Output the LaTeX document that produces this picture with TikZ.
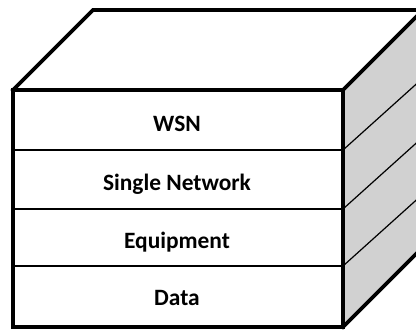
\documentclass[tikz,border=0pt]{standalone}
\usepackage{fontspec}
\setmainfont{Carlito}
\begin{document}
\begin{tikzpicture}[x=1bp,y=-1bp,
  thick edge/.style={line width=3.6bp, line join=miter, line cap=rect},
  layer line/.style={line width=1.4bp},
  side line/.style={line width=1.2bp},
  label/.style={font=\bfseries\fontsize{23.5}{27}\selectfont, anchor=base, inner sep=0pt}]
\useasboundingbox (0,0) rectangle (416,332);
\clip (0,0) rectangle (416,332);
% corners
\coordinate (FTL) at (13,90);
\coordinate (FTR) at (343,90);
\coordinate (FBL) at (13,327);
\coordinate (FBR) at (343,327);
\coordinate (BTL) at (93,10);
\coordinate (BTR) at (423,10);
\coordinate (BBR) at (423,247);
% right face
\fill[black!18] (FTR) -- (BTR) -- (BBR) -- (FBR) -- cycle;
% layer lines on front
\coordinate (L1a) at (13,150); \coordinate (L1b) at (343,150);
\coordinate (L2a) at (13,209); \coordinate (L2b) at (343,209);
\coordinate (L3a) at (13,266); \coordinate (L3b) at (343,266);
\draw[layer line] (L1a) -- (L1b);
\draw[layer line] (L2a) -- (L2b);
\draw[layer line] (L3a) -- (L3b);
% layer lines on right face
\coordinate (R1) at (423,78);
\coordinate (R2) at (423,137);
\coordinate (R3) at (423,194);
\draw[side line] (L1b) -- (R1);
\draw[side line] (L2b) -- (R2);
\draw[side line] (L3b) -- (R3);
% outlines
\draw[thick edge] (FTL) -- (FTR) -- (FBR) -- (FBL) -- cycle;
\draw[thick edge] (FTL) -- (BTL) -- (BTR);
\draw[thick edge] (FTR) -- (BTR);
\draw[thick edge] (FBR) -- (BBR);
% labels
\node[label] (wsn) at (177,131) {WSN};
\node[label] (single) at (177,190) {Single Network};
\node[label] (equip) at (177,248) {Equipment};
\node[label] (data) at (177,305) {Data};
\end{tikzpicture}
\end{document}
